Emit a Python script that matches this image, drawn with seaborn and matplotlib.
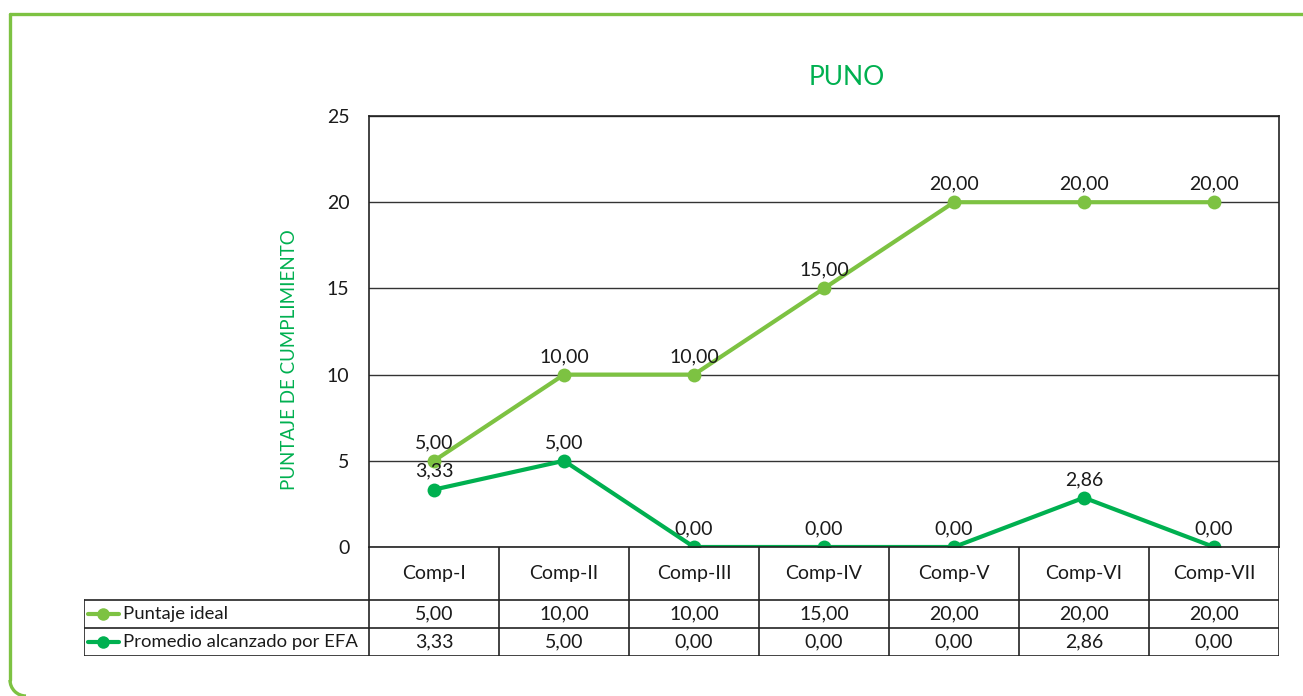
import seaborn as sns
import pandas as pd
import matplotlib.pyplot as plt
from matplotlib.lines import Line2D
from matplotlib.patches import Arc

categories = ['Comp-I', 'Comp-II', 'Comp-III', 'Comp-IV', 'Comp-V', 'Comp-VI', 'Comp-VII']
puntaje_ideal = [5.00, 10.00, 10.00, 15.00, 20.00, 20.00, 20.00]
promedio_efa = [3.33, 5.00, 0.00, 0.00, 0.00, 2.86, 0.00]
series_names = ['Puntaje ideal', 'Promedio alcanzado por EFA']
colors = ['#7DC242', '#00B050']
y_ticks = [0, 5, 10, 15, 20, 25]

W, H = 1303, 696
sns.set_theme(style='white')
plt.rcParams['font.family'] = ['Lato', 'DejaVu Sans']
FS = 14

fig = plt.figure(figsize=(W / 100, H / 100), dpi=100)


def fx(px):
    return px / W


def fy(py):
    return 1 - py / H


# main plot area
ax = fig.add_axes([fx(369), fy(547), fx(1279) - fx(369), fy(116) - fy(547)])

rows = []
for name, vals in zip(series_names, [puntaje_ideal, promedio_efa]):
    for i, v in enumerate(vals):
        rows.append({'x': i, 'y': v, 'Serie': name})
df = pd.DataFrame(rows)

sns.lineplot(data=df, x='x', y='y', hue='Serie', palette=colors, marker='o',
             markersize=10, markeredgewidth=0, linewidth=3, legend=False, ax=ax)

for vals in [puntaje_ideal, promedio_efa]:
    for i, v in enumerate(vals):
        ax.annotate(f'{v:.2f}'.replace('.', ','), (i, v), xytext=(0, 7),
                    textcoords='offset points', ha='center', va='bottom',
                    fontsize=FS, color='#1a1a1a')

ax.set_xlim(-0.5, len(categories) - 0.5)
ax.set_ylim(0, 25)
ax.set_yticks(y_ticks)
ax.set_xticks([])
ax.set_xlabel('')
ax.set_ylabel('PUNTAJE DE CUMPLIMIENTO', color='#00B050', fontsize=13.5)
ax.yaxis.set_label_coords(-0.078, 0.434)
ax.tick_params(axis='y', labelsize=FS, colors='#1a1a1a', pad=14, length=0)
ax.grid(axis='y', color='#333333', linewidth=1)
for s in ax.spines.values():
    s.set_color('#222222')
    s.set_linewidth(1.2)
ax.set_title('PUNO', color='#00B050', fontsize=19, pad=22, x=0.525)

# data table below the plot
tab = fig.add_axes([fx(84), fy(656), fx(1279) - fx(84), fy(547) - fy(656)])
left = -0.5 - 285 / 130
tab.set_xlim(left, len(categories) - 0.5)
tab.set_ylim(109, 0)
tab.axis('off')
lk = dict(color='#222222', linewidth=1.2)
n = len(categories)
for i in range(n + 1):
    tab.plot([i - 0.5, i - 0.5], [0, 109], **lk)
tab.plot([left, left], [53, 109], **lk)
for yy in [53, 81, 109]:
    tab.plot([left, n - 0.5], [yy, yy], **lk)
for i, c in enumerate(categories):
    tab.text(i, 27, c, ha='center', va='center', fontsize=FS, color='#1a1a1a')
for r, (name, vals, col) in enumerate(zip(series_names, [puntaje_ideal, promedio_efa], colors)):
    yc = 67 + 28 * r
    tab.add_line(Line2D([left + 0.03, left + 0.27], [yc, yc], color=col, linewidth=3))
    tab.plot([left + 0.15], [yc], marker='o', color=col, markersize=9, markeredgewidth=0)
    tab.text(left + 0.30, yc, name, ha='left', va='center', fontsize=13.3, color='#1a1a1a')
    for i, v in enumerate(vals):
        tab.text(i, yc, f'{v:.2f}'.replace('.', ','), ha='center', va='center',
                 fontsize=FS, color='#1a1a1a')

# green frame
bc = '#7DC242'
fig.add_artist(Line2D([fx(10), fx(1303)], [fy(14), fy(14)], color=bc, linewidth=2.4))
fig.add_artist(Line2D([fx(10), fx(10)], [fy(14), fy(680)], color=bc, linewidth=2.4))
fig.add_artist(Arc((fx(26), fy(680)), fx(32), 32 / H, theta1=180, theta2=270,
                   color=bc, linewidth=2.4, transform=fig.transFigure))

fig.savefig('out.png', dpi=100)
